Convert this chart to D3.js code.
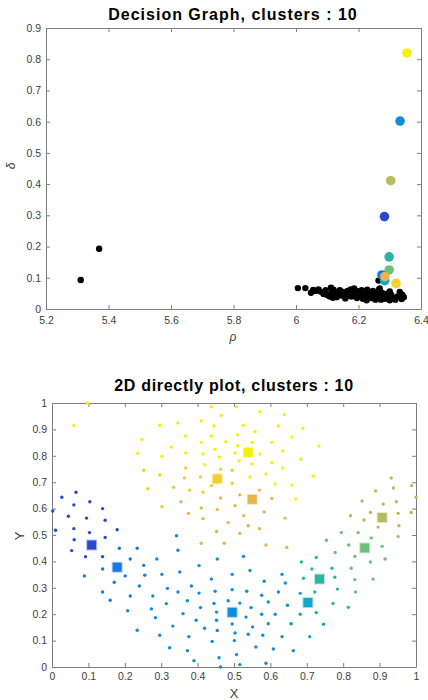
<!DOCTYPE html>
<html>
<head>
<meta charset="utf-8">
<script src="https://cdn.jsdelivr.net/npm/d3@7"></script>
<style>
  body { margin: 0; background: #fff; }
  svg text { font-family: "Liberation Sans", Arial, sans-serif; }
</style>
</head>
<body>
<svg id="chart" width="428" height="700"></svg>
<script>
// ---- data ----
const clusterNames = ['darkBlue', 'blue2', 'blue', 'cyan', 'teal', 'green', 'olive', 'orange', 'gold', 'yellow'];
const clusterColors = ['#2a49cc', '#1778e0', '#0f8ed8', '#12a6c8', '#2bb5a0', '#6cc07a', '#b4bc5e', '#e8b44e', '#f8cd2e', '#f4f111'];

// decision graph: cluster centres (rho, delta), same order as clusterNames
const centerRho   = [6.283, 6.275, 6.333, 6.284, 6.298, 6.298, 6.303, 6.284, 6.320, 6.355];
const centerDelta = [0.296, 0.109, 0.602, 0.091, 0.167, 0.125, 0.411, 0.104, 0.082, 0.820];
const drawOrder = [0, 2, 6, 4, 5, 1, 3, 7, 8, 9];

// decision graph: non-centre points
const otherRho = [5.311, 5.370, 6.006, 6.030, 6.048, 6.055, 6.063, 6.072, 6.080, 6.088, 6.095, 6.100, 6.108, 6.112,
  6.115, 6.120, 6.125, 6.130, 6.135, 6.140, 6.145, 6.150, 6.155, 6.160, 6.165, 6.170, 6.175, 6.178, 6.182, 6.186,
  6.190, 6.195, 6.198, 6.203, 6.207, 6.210, 6.214, 6.218, 6.222, 6.226, 6.230, 6.234, 6.238, 6.242, 6.246, 6.250,
  6.254, 6.258, 6.262, 6.265, 6.268, 6.272, 6.275, 6.280, 6.285, 6.290, 6.295, 6.300, 6.305, 6.310, 6.318, 6.325,
  6.332, 6.338, 6.345, 6.264, 6.268, 6.118, 6.158, 6.192, 6.228, 6.256, 6.300, 6.340];
const otherDelta = [0.093, 0.193, 0.067, 0.067, 0.052, 0.061, 0.058, 0.063, 0.055, 0.048, 0.060, 0.045, 0.040, 0.068,
  0.055, 0.062, 0.047, 0.038, 0.052, 0.060, 0.043, 0.055, 0.050, 0.040, 0.058, 0.047, 0.063, 0.040, 0.052, 0.066,
  0.045, 0.035, 0.056, 0.048, 0.040, 0.060, 0.033, 0.052, 0.045, 0.028, 0.055, 0.040, 0.048, 0.035, 0.058, 0.042,
  0.030, 0.050, 0.038, 0.062, 0.045, 0.030, 0.052, 0.040, 0.033, 0.048, 0.038, 0.028, 0.045, 0.035, 0.030, 0.040,
  0.055, 0.032, 0.038, 0.091, 0.066, 0.036, 0.034, 0.058, 0.062, 0.046, 0.056, 0.046];

// 2D plot: cluster centres (x, y)
const centerX = [0.109, 0.179, 0.495, 0.703, 0.735, 0.859, 0.907, 0.550, 0.454, 0.539];
const centerY = [0.462, 0.378, 0.207, 0.244, 0.333, 0.451, 0.566, 0.635, 0.713, 0.813];

// 2D plot: member points per cluster
const ptsDarkBlue = [[0.066,0.662],[0.027,0.643],[0.104,0.626],[0.060,0.614],[0.139,0.600],[0.002,0.591],[0.045,0.571],
  [0.095,0.564],[0.146,0.556],[0.010,0.518],[0.060,0.524],[0.103,0.509],[0.179,0.520],[0.146,0.491],[0.061,0.482],
  [0.054,0.441],[0.092,0.418],[0.139,0.418]];
const ptsBlue2 = [[0.185,0.450],[0.234,0.450],[0.215,0.409],[0.139,0.371],[0.089,0.345],[0.201,0.345],[0.171,0.321],
  [0.139,0.284],[0.160,0.253],[0.252,0.385],[0.255,0.348],[0.240,0.307],[0.215,0.269]];
const ptsBlue = [[0.288,0.409],[0.302,0.351],[0.317,0.298],[0.277,0.269],[0.314,0.240],[0.208,0.213],[0.273,0.220],
  [0.284,0.187],[0.332,0.155],[0.234,0.139],[0.296,0.120],[0.323,0.073],[0.342,0.497],[0.346,0.442],[0.454,0.409],
  [0.526,0.419],[0.404,0.384],[0.351,0.360],[0.495,0.351],[0.544,0.366],[0.632,0.351],[0.438,0.333],[0.583,0.325],
  [0.641,0.318],[0.383,0.307],[0.346,0.284],[0.404,0.280],[0.448,0.287],[0.495,0.293],[0.535,0.287],[0.576,0.272],
  [0.622,0.284],[0.372,0.251],[0.445,0.241],[0.484,0.251],[0.516,0.242],[0.594,0.246],[0.647,0.234],[0.408,0.225],
  [0.547,0.225],[0.360,0.202],[0.452,0.208],[0.533,0.189],[0.576,0.200],[0.613,0.200],[0.396,0.177],[0.452,0.177],
  [0.495,0.163],[0.551,0.152],[0.594,0.164],[0.657,0.164],[0.419,0.147],[0.454,0.138],[0.503,0.129],[0.539,0.124],
  [0.579,0.120],[0.632,0.115],[0.376,0.115],[0.440,0.097],[0.501,0.100],[0.560,0.076],[0.608,0.068],[0.663,0.062],
  [0.372,0.062],[0.507,0.047],[0.459,0.035],[0.390,0.024],[0.588,0.014],[0.516,0.009],[0.463,0.000]];
const ptsCyan = [[0.682,0.279],[0.682,0.200],[0.726,0.206],[0.746,0.162],[0.708,0.115]];
const ptsTeal = [[0.726,0.415],[0.685,0.398],[0.714,0.371],[0.769,0.374],[0.691,0.336],[0.777,0.340],[0.784,0.295],
  [0.722,0.284],[0.772,0.241],[0.814,0.226]];
const ptsGreen = [[0.795,0.509],[0.841,0.509],[0.877,0.489],[0.754,0.480],[0.815,0.462],[0.907,0.457],[0.778,0.434],
  [0.832,0.419],[0.915,0.409],[0.875,0.398],[0.822,0.374],[0.832,0.331],[0.882,0.333],[0.834,0.284]];
const ptsOlive = [[0.932,0.716],[0.889,0.667],[0.938,0.678],[0.988,0.687],[1.000,0.643],[0.852,0.629],[0.910,0.617],
  [0.946,0.626],[0.875,0.585],[0.951,0.582],[0.987,0.585],[0.820,0.573],[0.857,0.557],[0.896,0.530],[0.953,0.535],
  [0.951,0.494]];
const ptsOrange = [[0.410,0.469],[0.473,0.469],[0.588,0.462],[0.645,0.453],[0.452,0.513],[0.516,0.506],[0.484,0.547],
  [0.539,0.535],[0.570,0.524],[0.415,0.562],[0.640,0.564],[0.527,0.573],[0.375,0.582],[0.583,0.587],[0.454,0.597],
  [0.410,0.602],[0.503,0.611],[0.354,0.626],[0.463,0.640],[0.604,0.638],[0.516,0.652],[0.570,0.670]];
const ptsGold = [[0.263,0.675],[0.334,0.681],[0.302,0.607],[0.378,0.670],[0.415,0.662],[0.364,0.716],[0.408,0.720],
  [0.438,0.687],[0.495,0.696],[0.367,0.754],[0.463,0.749],[0.495,0.745],[0.252,0.745],[0.296,0.727]];
const ptsYellow = [[0.098,1.000],[0.060,0.915],[0.296,0.915],[0.247,0.862],[0.328,0.833],[0.235,0.809],[0.302,0.798],
  [0.438,0.986],[0.507,0.986],[0.465,0.953],[0.571,0.967],[0.638,0.956],[0.346,0.924],[0.410,0.933],[0.445,0.913],
  [0.526,0.915],[0.622,0.913],[0.558,0.891],[0.367,0.875],[0.438,0.875],[0.510,0.880],[0.659,0.871],[0.410,0.851],
  [0.477,0.853],[0.550,0.851],[0.604,0.851],[0.510,0.838],[0.448,0.825],[0.367,0.811],[0.415,0.807],[0.503,0.811],
  [0.571,0.807],[0.634,0.818],[0.460,0.795],[0.514,0.781],[0.419,0.766],[0.550,0.769],[0.604,0.775],[0.634,0.754],
  [0.588,0.731],[0.544,0.720],[0.613,0.693],[0.659,0.689],[0.670,0.636],[0.689,0.904],[0.733,0.837],[0.684,0.787],
  [0.718,0.723]];
const clusterPoints = [ptsDarkBlue, ptsBlue2, ptsBlue, ptsCyan, ptsTeal, ptsGreen, ptsOlive, ptsOrange, ptsGold, ptsYellow];

// tick labels
const rhoTicks = [5.2, 5.4, 5.6, 5.8, 6, 6.2, 6.4];
const deltaTicks = [0, 0.1, 0.2, 0.3, 0.4, 0.5, 0.6, 0.7, 0.8, 0.9];
const unitTicks = [0, 0.1, 0.2, 0.3, 0.4, 0.5, 0.6, 0.7, 0.8, 0.9, 1];

// ---- drawing ----
const svg = d3.select('#chart');
const axisGrey = '#7f7f7f';
const labelGrey = '#404040';

function drawBox(x, y, xt, yt, padX, padY) {
  const g = svg.append('g');
  const styleAxis = sel => {
    sel.select('.domain').attr('stroke', axisGrey).attr('stroke-width', 1);
    sel.selectAll('.tick line').attr('stroke', axisGrey);
    sel.selectAll('.tick text').attr('fill', labelGrey).style('font-size', '10.5px');
  };
  g.append('g').attr('transform', `translate(0,${y.range()[0]})`)
    .call(d3.axisBottom(x).tickValues(xt).tickSizeInner(-4).tickSizeOuter(0).tickPadding(padX).tickFormat(d => String(d)))
    .call(styleAxis);
  g.append('g').attr('transform', `translate(${x.range()[0]},0)`)
    .call(d3.axisLeft(y).tickValues(yt).tickSizeInner(-4).tickSizeOuter(0).tickPadding(padY).tickFormat(d => String(d)))
    .call(styleAxis);
  g.append('g').attr('transform', `translate(0,${y.range()[1]})`)
    .call(d3.axisTop(x).tickValues(xt).tickSizeInner(-4).tickSizeOuter(0).tickFormat(''))
    .call(styleAxis);
  g.append('g').attr('transform', `translate(${x.range()[1]},0)`)
    .call(d3.axisRight(y).tickValues(yt).tickSizeInner(-4).tickSizeOuter(0).tickFormat(''))
    .call(styleAxis);
}

// top: decision graph
const xRho = d3.scaleLinear().domain([5.2, 6.4]).range([46, 421]);
const yDelta = d3.scaleLinear().domain([0, 0.9]).range([309, 28]);

drawBox(xRho, yDelta, rhoTicks, deltaTicks, 8, 5);

svg.append('g').selectAll('circle')
  .data(otherRho.map((r, i) => ({ r, d: otherDelta[i] })))
  .enter().append('circle')
    .attr('cx', p => xRho(p.r))
    .attr('cy', p => yDelta(p.d))
    .attr('r', 3.2)
    .attr('fill', '#000');

svg.append('g').selectAll('circle')
  .data(drawOrder)
  .enter().append('circle')
    .attr('cx', i => xRho(centerRho[i]))
    .attr('cy', i => yDelta(centerDelta[i]))
    .attr('r', 4.8)
    .attr('fill', i => clusterColors[i]);

svg.append('text').attr('x', 233).attr('y', 20).attr('text-anchor', 'middle')
  .style('font-size', '16px').style('font-weight', 'bold').style('letter-spacing', '1px')
  .text('Decision Graph, clusters : 10');
svg.append('text').attr('x', 233).attr('y', 341).attr('text-anchor', 'middle')
  .attr('fill', labelGrey).style('font-size', '12px').style('font-style', 'italic').text('ρ');
svg.append('text').attr('transform', 'translate(15,166) rotate(-90)').attr('text-anchor', 'middle')
  .attr('fill', labelGrey).style('font-size', '12px').style('font-style', 'italic').text('δ');

// bottom: 2D plot
const xPos = d3.scaleLinear().domain([0, 1]).range([52, 416]);
const yPos = d3.scaleLinear().domain([0, 1]).range([667, 403]);

drawBox(xPos, yPos, unitTicks, unitTicks, 6, 5);

clusterPoints.forEach((pts, i) => {
  svg.append('g').selectAll('circle')
    .data(pts)
    .enter().append('circle')
      .attr('cx', p => xPos(p[0]))
      .attr('cy', p => yPos(p[1]))
      .attr('r', 1.7)
      .attr('fill', clusterColors[i]);
});

svg.append('g').selectAll('rect')
  .data(clusterNames.map((n, i) => i))
  .enter().append('rect')
    .attr('x', i => xPos(centerX[i]) - 4.5)
    .attr('y', i => yPos(centerY[i]) - 4.5)
    .attr('width', 9)
    .attr('height', 9)
    .attr('fill', i => clusterColors[i])
    .attr('stroke', i => clusterColors[i])
    .attr('stroke-opacity', 0.35)
    .attr('stroke-width', 2);

svg.append('text').attr('x', 234).attr('y', 391).attr('text-anchor', 'middle')
  .style('font-size', '16px').style('font-weight', 'bold').style('letter-spacing', '0.7px')
  .text('2D directly plot, clusters : 10');
svg.append('text').attr('x', 234).attr('y', 698).attr('text-anchor', 'middle')
  .attr('fill', labelGrey).style('font-size', '13px').text('X');
svg.append('text').attr('transform', 'translate(24,536) rotate(-90)').attr('text-anchor', 'middle')
  .attr('fill', labelGrey).style('font-size', '13px').text('Y');
</script>
</body>
</html>
